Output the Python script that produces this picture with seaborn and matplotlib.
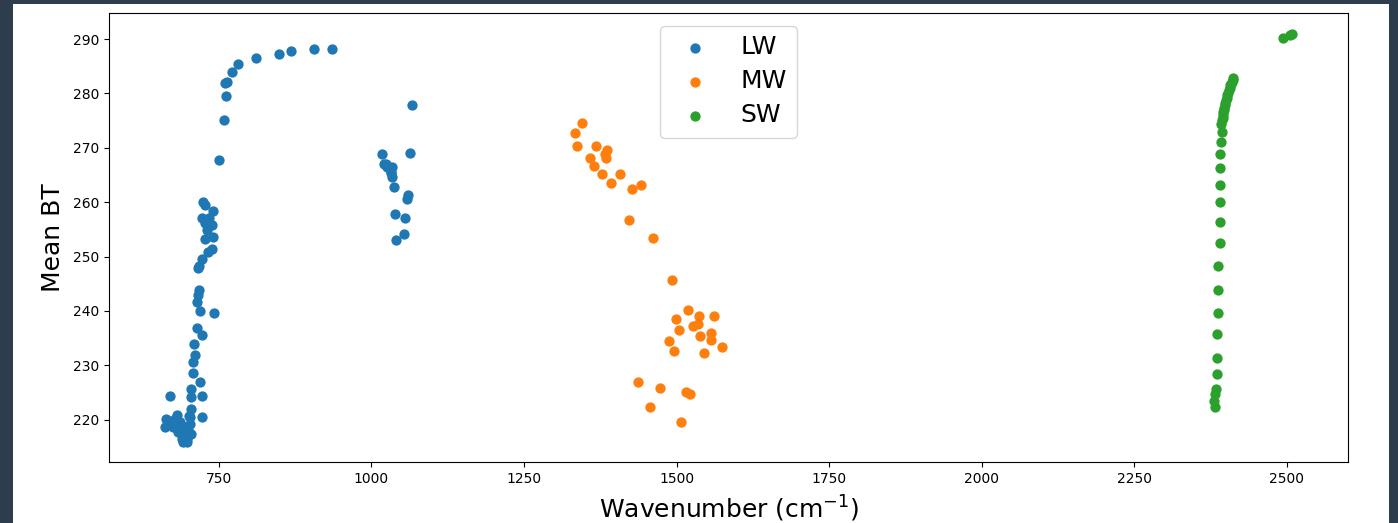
import pandas as pd
import seaborn as sns
import matplotlib.pyplot as plt
from matplotlib.patches import Rectangle

# LW band
lw_x = [936, 906, 869, 849, 811, 782, 772, 764, 760, 761.5, 757.7, 750.5,
        1066, 1062.6, 1018, 1020.5, 1024.6, 1026, 1033, 1031.5, 1031.5, 1033,
        1037, 1060.5, 1058.7, 1038.5, 1055, 1053, 1040,
        724.3, 727, 740.7, 721.6, 734, 727, 738, 730, 740.7, 727, 738, 732.5,
        721.6, 718, 716, 717.7, 715, 713.4, 719, 742, 713.4,
        723, 709, 710.7, 708, 707, 719, 705, 721.6, 703.6, 669.7, 703.6,
        721.6, 701, 680.7, 664, 661.5, 675, 683.3, 691.5, 697, 691.5, 699.7,
        702.5, 686, 694, 688.9, 697, 705, 669.7, 678, 689, 702.5]
lw_y = [288.2, 288.2, 287.8, 287.2, 286.6, 285.4, 283.9, 282.1, 281.9, 279.5, 275.1, 267.8,
        277.9, 269.1, 268.8, 267.1, 267.0, 266.5, 266.5, 265.6, 265.3, 264.6,
        262.8, 261.4, 260.5, 257.9, 257.0, 254.2, 253.0,
        260.0, 259.4, 258.4, 257.0, 257.0, 256.1, 255.8, 254.8, 253.6, 253.3, 251.4, 250.8,
        249.6, 248.3, 247.8, 243.8, 242.9, 241.6, 240.0, 239.6, 236.9,
        235.5, 233.9, 231.8, 230.6, 228.5, 227.0, 225.7, 224.4, 224.1, 224.4, 222.0,
        220.4, 220.7, 220.9, 220.1, 218.6, 218.6, 217.7, 217.1, 216.4, 215.8, 218.0,
        219.2, 219.5, 218.6, 216.4, 215.9, 217.4, 219.8, 220.1, 218.0, 220.4]

# MW band
mw_x = [1345.7, 1333.6, 1336.4, 1367.5, 1385.6, 1382.8, 1358, 1384.4, 1365.3, 1378.4,
        1407.4, 1392.6, 1441.8, 1427.6, 1422, 1462, 1493, 1518.9, 1537.4, 1562,
        1498.7, 1527.6, 1534.8, 1504, 1556.6, 1538.5, 1556.6, 1487.7, 1575, 1496.4,
        1545.6, 1436.4, 1473, 1515.6, 1522, 1456.6, 1507.4]
mw_y = [274.5, 272.7, 270.3, 270.3, 269.6, 268.8, 268.1, 268.1, 266.7, 265.1,
        265.1, 263.6, 263.2, 262.4, 256.7, 253.4, 245.7, 240.2, 239.0, 239.0,
        238.5, 237.3, 237.6, 236.5, 236.0, 235.3, 234.7, 234.5, 233.4, 232.7,
        232.2, 226.9, 225.9, 225.0, 224.8, 222.4, 219.5]

# SW band
sw_x = [2508.5, 2505, 2493.7, 2411.6, 2411, 2410, 2408.8, 2407.4, 2406, 2404.6, 2403.2,
        2402, 2401, 2400.3, 2399, 2398, 2397.2, 2396.5, 2396, 2395.5, 2394.6, 2393.8,
        2392.2, 2393.8, 2392.6, 2391, 2391, 2391, 2389.5, 2389.5, 2389.5, 2387.2,
        2387.2, 2387.2, 2385.6, 2385.6, 2385.6, 2383.9, 2382.8, 2380, 2381.7]
sw_y = [291.0, 290.8, 290.2, 282.8, 282.5, 282.1, 281.8, 281.5, 281.0, 280.6, 280.1,
        279.7, 279.2, 278.8, 278.3, 277.8, 277.4, 276.9, 276.5, 276.0, 275.5, 275.1,
        274.3, 272.9, 271.1, 268.9, 266.3, 263.2, 260.0, 256.3, 252.4, 248.2,
        243.9, 239.6, 235.8, 231.4, 228.4, 225.6, 224.7, 223.5, 222.3]

bands = ['LW', 'MW', 'SW']
colors = ['#1f77b4', '#ff7f0e', '#2ca02c']

df = pd.concat([
    pd.DataFrame({'wn': lw_x, 'bt': lw_y, 'band': 'LW'}),
    pd.DataFrame({'wn': mw_x, 'bt': mw_y, 'band': 'MW'}),
    pd.DataFrame({'wn': sw_x, 'bt': sw_y, 'band': 'SW'}),
])

fig = plt.figure(figsize=(13.98, 5.23), dpi=100, facecolor='#2e3d4d')
# white canvas inside the dark frame
fig.patches.append(Rectangle((13 / 1398, 0), (1389 - 13) / 1398, (523 - 4) / 523,
                             transform=fig.transFigure, facecolor='white',
                             edgecolor='none', zorder=-1))
ax = fig.add_axes([109 / 1398, 1 - 462 / 523, (1348 - 109) / 1398, (462 - 13) / 523])

for band, c in zip(bands, colors):
    sub = df[df['band'] == band]
    sns.scatterplot(data=sub, x='wn', y='bt', color=c, s=55, linewidth=0,
                    label=band, ax=ax)

ax.set_xlim(570, 2600)
ax.set_ylim(212.2, 294.8)
ax.set_xlabel('Wavenumber (cm$^{-1}$)', fontsize=18, labelpad=5.5)
ax.set_ylabel('Mean BT', fontsize=18, labelpad=6)
ax.tick_params(labelsize=10)
ax.legend(loc='upper center', fontsize=18, labelspacing=0.4)

plt.savefig('out.png', dpi=100, facecolor=fig.get_facecolor())
